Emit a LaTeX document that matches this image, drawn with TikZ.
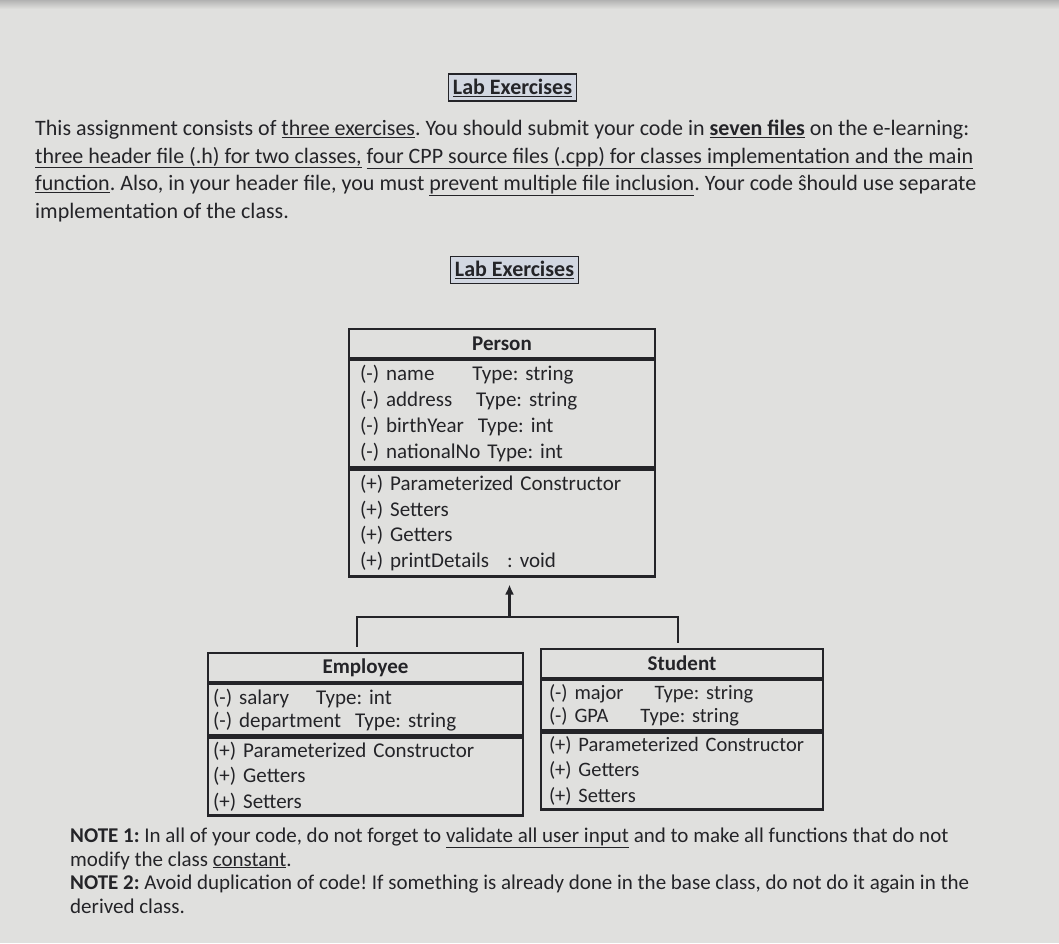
\documentclass[tikz,border=0pt]{standalone}
\usepackage{fontspec}
\setmainfont{Carlito}
\usetikzlibrary{arrows.meta,positioning}
\definecolor{paper}{RGB}{224,224,222}
\definecolor{ink}{RGB}{36,36,40}
\definecolor{headfill}{RGB}{210,215,225}
\frenchspacing

\begin{document}
\begin{tikzpicture}[x=1pt,y=-1pt,
  node distance=0pt,
  txt/.style={text=ink,align=left,inner sep=0pt},
  heading/.style={draw=ink,fill=headfill,line width=1.4pt,inner sep=0pt,minimum width=128pt,minimum height=27pt,text=ink,font=\fontsize{22}{24}\selectfont\bfseries},
  ctitle/.style={draw=ink,line width=2.2pt,minimum height=29pt,inner sep=0pt,text=ink,font=\fontsize{21}{24}\selectfont\bfseries},
  cpart/.style={draw=ink,line width=2.2pt,align=left,inner ysep=0pt,text=ink},
  link/.style={draw=ink,line width=2.6pt},
  >={Latex[length=10pt,width=9pt]}]

\useasboundingbox (0,0) rectangle (1059,943);
\fill[paper] (0,0) rectangle (1059,943);
\shade[top color=black!30,bottom color=paper] (0,0) rectangle (1059,9);

% headings and text
\node[heading] (head1) at (512.5,87.5) {\underline{Lab Exercises}};
\node[txt,anchor=base west,font=\fontsize{22}{27.5}\selectfont] (para) at (35,218)
  {This assignment consists of \underline{three exercises}. You should submit your code in \underline{\textbf{seven files}} on the e-learning:\\
   \underline{three header file (.h) for two classes,} \underline{four CPP source files (.cpp) for classes implementation and the main}\\
   \underline{function}. Also, in your header file, you must \underline{prevent multiple file inclusion}. Your code ŝhould use separate\\
   implementation of the class.};
\node[heading] (head2) at (514.5,270) {\underline{Lab Exercises}};

% base class
\node[ctitle,minimum width=306pt] (pName) at (502,343.5) {Person};
\node[cpart,below=of pName,inner xsep=11pt,text width=284pt,minimum height=107pt,font=\fontsize{21}{26}\selectfont] (pAttr)
  {(-) name\hspace{38pt}Type: string\\
   (-) address\hspace{24pt}Type: string\\
   (-) birthYear\hspace{14pt}Type: int\\
   (-) nationalNo Type: int};
\node[cpart,below=of pAttr,inner xsep=11pt,text width=284pt,minimum height=107pt,font=\fontsize{21}{25.5}\selectfont] (pOps)
  {(+) Parameterized Constructor\\
   (+) Setters\\
   (+) Getters\\
   (+) printDetails\hspace{18pt}: void};

% derived classes
\node[ctitle,minimum width=315pt] (eName) at (365.5,667.5) {Employee};
\node[cpart,below=of eName,inner xsep=5pt,text width=305pt,minimum height=51pt,font=\fontsize{21}{23}\selectfont] (eAttr)
  {(-) salary\hspace{27pt}Type: int\\
   (-) department\ \ Type: string};
\node[cpart,below=of eAttr,inner xsep=5pt,text width=305pt,minimum height=78pt,font=\fontsize{21}{25.5}\selectfont] (eOps)
  {(+) Parameterized Constructor\\
   (+) Getters\\
   (+) Setters};

\node[ctitle,minimum width=282pt] (sName) at (682,663.5) {Student};
\node[cpart,below=of sName,inner xsep=8pt,text width=266pt,minimum height=50pt,font=\fontsize{20.5}{23.5}\selectfont] (sAttr)
  {(-) major\hspace{31pt}Type: string\\
   (-) GPA\hspace{32pt}Type: string};
\node[cpart,below=of sAttr,inner xsep=8pt,text width=266pt,minimum height=77pt,font=\fontsize{20.5}{25.5}\selectfont] (sOps)
  {(+) Parameterized Constructor\\
   (+) Getters\\
   (+) Setters};

% inheritance
\coordinate (join) at (509.5,617);
\coordinate (eLeg) at (357,617);
\coordinate (sLeg) at (678,617);
\draw[link,->,shorten >=7pt] (join) -- (join |- pOps.south);
\draw[link,shorten <=5pt,shorten >=5pt] (eLeg |- eName.north) -- (eLeg) -- (sLeg) -- (sLeg |- sName.north);

\node[txt,anchor=base west,font=\fontsize{21}{23.5}\selectfont] (notes) at (70,913)
  {\textbf{NOTE 1:} In all of your code, do not forget to \underline{validate all user input} and to make all functions that do not\\
   modify the class \underline{constant}.\\
   \textbf{NOTE 2:} Avoid duplication of code! If something is already done in the base class, do not do it again in the\\
   derived class.};
\end{tikzpicture}
\end{document}
